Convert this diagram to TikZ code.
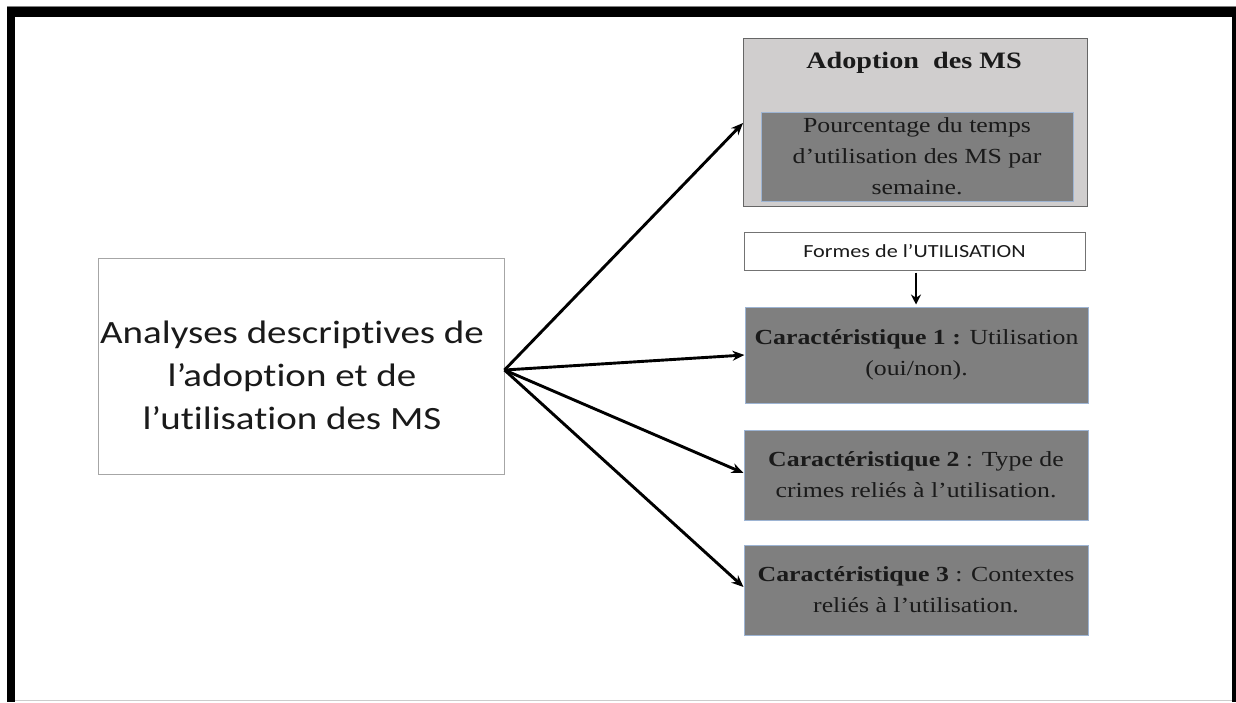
\documentclass[tikz,border=0pt]{standalone}
\usepackage{fontspec}
\setmainfont{Liberation Serif}[FakeStretch=1.2]
\newfontfamily\calibri{Carlito}[FakeStretch=1.2,Ligatures=NoCommon]
\usetikzlibrary{arrows.meta,calc}
\definecolor{boxline}{HTML}{A6A6A6}
\definecolor{lightfill}{HTML}{D0CECE}
\definecolor{darkfill}{HTML}{7F7F7F}
\definecolor{blueline}{HTML}{9DB4D3}
\definecolor{textdark}{HTML}{1A1A1A}
\tikzset{
  px/.style={x=1pt,y=-1pt},
  mainbox/.style={draw=boxline,line width=1pt,fill=white,inner sep=0pt,
    minimum width=406pt,minimum height=216pt},
  maintext/.style={inner sep=0pt,align=center,text=textdark,
    font=\calibri\fontsize{32.5}{43}\selectfont},
  outerbox/.style={draw=black!60,line width=1pt,fill=lightfill,inner sep=0pt,
    minimum width=344pt,minimum height=168pt},
  greybox/.style={draw=blueline,line width=1pt,fill=darkfill,inner sep=0pt,align=center,
    text=textdark,font=\fontsize{21.5}{31}\selectfont},
  labelbox/.style={draw=black!55,line width=1pt,fill=white,inner sep=0pt,text=textdark,
    minimum width=341pt,minimum height=38pt,font=\calibri\fontsize{18.5}{20}\selectfont},
  link/.style={line width=2.9pt,-{Stealth[length=12pt,width=10pt]}},
}
\begin{document}
\begin{tikzpicture}[px]
\useasboundingbox (0,0) rectangle (1236,702);
\fill[white] (0,0) rectangle (1236,702);
% page frame
\draw[black!50,line width=0.6pt] (7,6.5) -- (1236,6.5);
\fill[black] (7,7) rectangle (1236,17);
\fill[black] (7,7) rectangle (15,702);
\fill[black] (1232,7) rectangle (1236,702);
\draw[black!20,line width=1pt] (15,700.5) -- (1232,700.5);

% source box
\node[mainbox] (main) at (301,366) {};
\node[maintext] (maintxt) at (292,375)
  {Analyses descriptives de\\l’adoption et de\\l’utilisation des MS};
\coordinate (o) at ($(main.east)+(0,4)$);

% adoption box with inner indicator
\node[outerbox] (adopt) at (915.5,122) {};
\node[font=\bfseries\fontsize{23.5}{25}\selectfont,text=textdark] (adopttitle) at (914,63) {Adoption\ \ des MS};
\node[greybox,minimum width=312pt,minimum height=89pt] (pct) at (917,156.5)
  {Pourcentage du temps\\d’utilisation des MS par\\semaine.};

% forms of use
\node[labelbox] (formes) at (914.5,251) {Formes de l’UTILISATION};

\node[greybox,minimum width=343pt,minimum height=96pt] (c1) at (916.5,355)
  {\textbf{Caractéristique 1 :} Utilisation\\(oui/non).};
\node[greybox,minimum width=344pt,minimum height=90pt] (c2) at (916,475)
  {\textbf{Caractéristique 2} : Type de\\crimes reliés à l’utilisation.};
\node[greybox,minimum width=344pt,minimum height=90pt] (c3) at (916,590)
  {\textbf{Caractéristique 3} : Contextes\\reliés à l’utilisation.};

% connectors
\draw[link] (o) -- ($(adopt.west)+(0,1)$);
\draw[link] (o) -- (c1.west);
\draw[link] (o) -- ($(c2.west)+(0,-2)$);
\draw[link] (o) -- ($(c3.west)+(0,-3)$);
\draw[line width=2.6pt,-{Stealth[length=10pt,width=10pt]}] (formes.south -| 916,0) ++(0,2) -- ($(c1.north -| 916,0)+(0,-2)$);
\end{tikzpicture}
\end{document}
